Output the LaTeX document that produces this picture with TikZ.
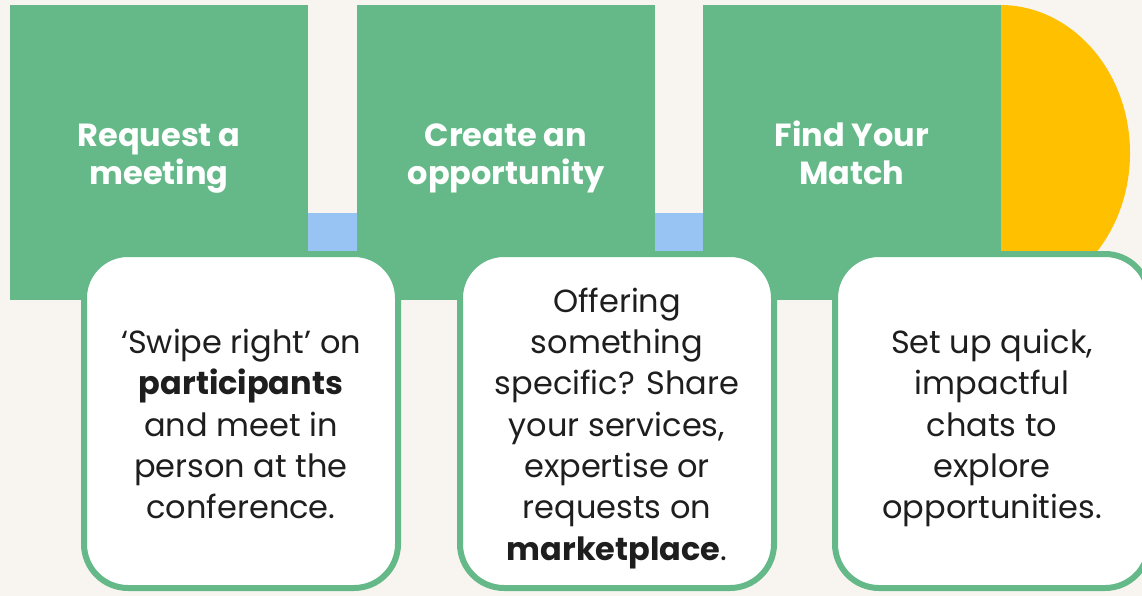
\documentclass[tikz,border=0pt]{standalone}
\usepackage{fontspec}
\setmainfont{Poppins}
\usetikzlibrary{calc}
\definecolor{bgc}{HTML}{F8F4F0}
\definecolor{grn}{HTML}{65B988}
\definecolor{blu}{HTML}{97C4F2}
\definecolor{ylw}{HTML}{FFC000}
\definecolor{ink}{HTML}{1E1E1E}
\tikzset{
  sq/.style={fill=grn, draw=none, inner sep=0pt, minimum width=298pt, minimum height=295pt},
  head/.style={text=white, align=center, inner sep=0pt, font=\bfseries\fontsize{32}{38}\selectfont},
  card/.style={fill=white, draw=grn, line width=6pt, rounded corners=44pt, inner sep=0pt,
    minimum width=314pt, minimum height=334pt},
  body/.style={text=ink, align=center, inner sep=0pt, font=\fontsize{32}{41.3}\selectfont},
  bridge/.style={fill=blu},
}
\begin{document}
\begin{tikzpicture}[x=1pt,y=-1pt]
\useasboundingbox (0,0) rectangle (1142,596);
\clip (0,0) rectangle (1142,596);
\fill[bgc] (0,0) rectangle (1142,596);
% yellow half disc behind third square
\fill[ylw] (1000,153) ellipse [x radius=130pt, y radius=148pt];
% squares
\node[sq] (s1) at (159,152.5) {};
\node[sq] (s2) at (506,152.5) {};
\node[sq] (s3) at (852,152.5) {};
\node[head] (h1) at ($(s1.center)+(0,5)$) {\strut Request a\\\strut meeting};
\node[head] (h2) at ($(s2.center)+(0,5)$) {\strut Create an\\\strut opportunity};
\node[head] (h3) at ($(s3.center)+(0,5)$) {\strut Find Your\\\strut Match};
% connectors
\fill[bridge] ($(s1.east)+(0,60.5)$) rectangle ($(s2.west)+(0,98.5)$);
\fill[bridge] ($(s2.east)+(0,60.5)$) rectangle ($(s3.west)+(0,98.5)$);
% cards
\node[card] (c1) at (241,421) {};
\node[card] (c2) at (617,421) {};
\node[card] (c3) at (992,421) {};
\node[body] (t1) at ($(c1.center)+(0,7)$) {\strut‘Swipe right’ on\\\strut\textbf{participants}\\\strut and meet in\\\strut person at the\\\strut conference.};
\node[body] (t2) at ($(c2.center)+(0,7)$) {\strut Offering\\\strut something\\\strut specific? Share\\\strut your services,\\\strut expertise or\\\strut requests on\\\strut\textbf{marketplace}.};
\node[body] (t3) at ($(c3.center)+(0,7)$) {\strut Set up quick,\\\strut impactful\\\strut chats to\\\strut explore\\\strut opportunities.};
\end{tikzpicture}
\end{document}
